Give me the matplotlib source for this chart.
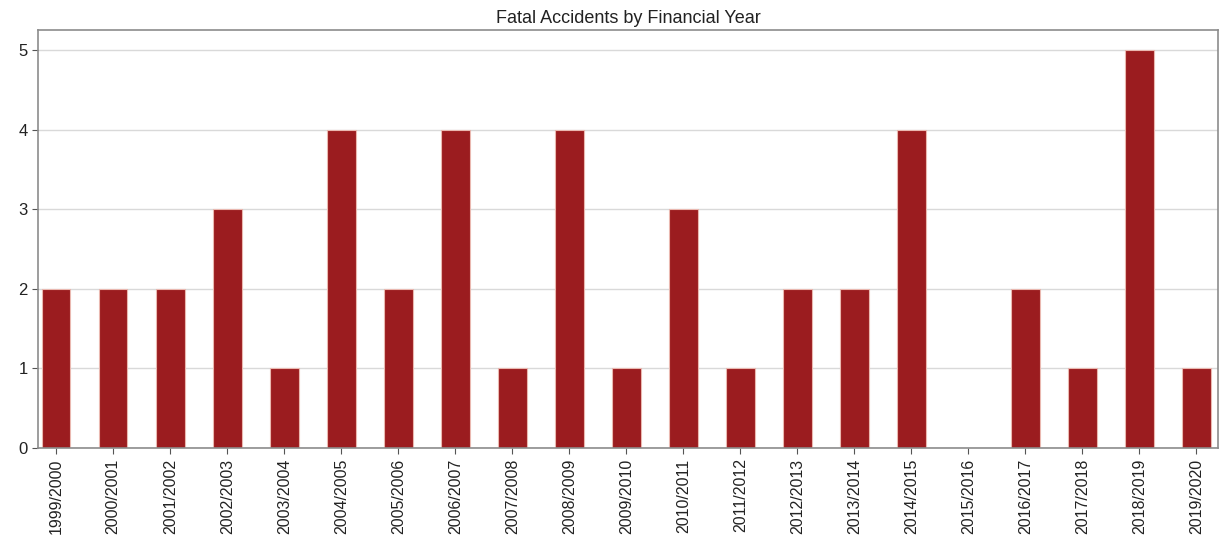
import matplotlib.pyplot as plt
import numpy as np

plt.rcParams['font.family'] = ['Liberation Sans', 'DejaVu Sans']

years = ['1999/2000', '2000/2001', '2001/2002', '2002/2003', '2003/2004',
         '2004/2005', '2005/2006', '2006/2007', '2007/2008', '2008/2009',
         '2009/2010', '2010/2011', '2011/2012', '2012/2013', '2013/2014',
         '2014/2015', '2015/2016', '2016/2017', '2017/2018', '2018/2019',
         '2019/2020']
fatal = [2, 2, 2, 3, 1, 4, 2, 4, 1, 4, 1, 3, 1, 2, 2, 4, 0, 2, 1, 5, 1]


def main():
    fig = plt.figure(figsize=(12.22, 5.4), dpi=100)
    ax = fig.add_axes([38/1222, 92/540, 1180/1222, 418/540])
    x = np.arange(len(years))
    ax.bar(x, fatal, width=0.5, color='#9b1c1f', edgecolor='#eab8b0', linewidth=0.8, zorder=2)
    ax.set_xticks(x)
    ax.set_xticklabels(years, rotation=90, fontsize=11.5, color='#222222')
    ax.set_xlim(-0.32, 20.38)
    ax.set_ylim(0, 5.25)
    ax.set_yticks(range(6))
    ax.tick_params(axis='y', labelsize=12, labelcolor='#222222', color='#555555', length=4)
    ax.tick_params(axis='x', color='#555555', length=4)
    ax.yaxis.grid(True, color='#d9d9d9', linewidth=1, zorder=0)
    ax.set_axisbelow(True)
    for s in ax.spines.values():
        s.set_color('#8c8c8c')
        s.set_linewidth(1.2)
    ax.set_title('Fatal Accidents by Financial Year', fontsize=13, pad=5, color='#222222')
    fig.savefig('out.png', dpi=100)


if __name__ == '__main__':
    main()
